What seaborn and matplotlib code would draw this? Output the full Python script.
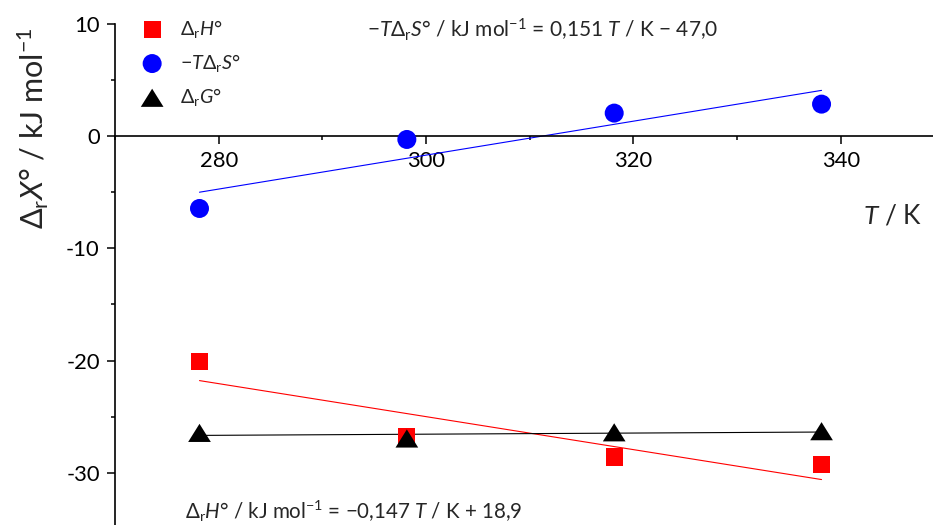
import numpy as np
import pandas as pd
import matplotlib
matplotlib.use("Agg")
import matplotlib.pyplot as plt
import seaborn as sns
from matplotlib.ticker import MultipleLocator, FixedLocator

# ---------------- data ----------------
temperature = [278.15, 298.15, 318.15, 338.15]
delta_h = [-20.1, -26.8, -28.6, -29.3]
minus_t_delta_s = [-6.45, -0.30, 2.05, 2.85]
delta_g = [-26.45, -26.95, -26.40, -26.30]

series_labels = [r"$\Delta_{\mathrm{r}}H$°", r"$-T\Delta_{\mathrm{r}}S$°", r"$\Delta_{\mathrm{r}}G$°"]
series_colors = ["#ff0000", "#0000ff", "#000000"]
x_ticks = [280, 300, 320, 340]
y_ticks = [-30, -20, -10, 0, 10]
x_label = r"$T$ / K"
y_label = r"$\Delta_{\mathrm{r}}X$° / kJ mol$^{-1}$"
fit_text_s = r"$-T\Delta_{\mathrm{r}}S$° / kJ mol$^{-1}$ = 0,151 $T$ / K $-$ 47,0"
fit_text_h = r"$\Delta_{\mathrm{r}}H$° / kJ mol$^{-1}$ = $-$0,147 $T$ / K + 18,9"

# ---------------- style ----------------
sns.set_theme(style="ticks")
plt.rcParams["font.family"] = ["Lato", "DejaVu Sans"]
plt.rcParams["mathtext.fontset"] = "custom"
plt.rcParams["mathtext.rm"] = "Lato"
plt.rcParams["mathtext.it"] = "Lato:italic"
plt.rcParams["mathtext.bf"] = "Lato:bold"
plt.rcParams["mathtext.sf"] = "Lato"
plt.rcParams["axes.unicode_minus"] = False

W, H = 933, 525
fig = plt.figure(figsize=(W / 100, H / 100), dpi=100)
ax = fig.add_axes([115 / W, 0, (W - 115) / W, 1 - 23.9 / H])
ax.set_facecolor("white")
fig.patch.set_facecolor("white")

# fit lines
for yvals, col in zip([delta_h, minus_t_delta_s, delta_g], series_colors):
    sns.regplot(x=np.array(temperature), y=np.array(yvals), scatter=False, ci=None,
                truncate=True, color=col, line_kws=dict(lw=0.8, zorder=2), ax=ax)

tri = [(0, 0.8), (-1, -0.8), (1, -0.8)]
sns.scatterplot(x=temperature, y=delta_h, marker="s", s=150, color=series_colors[0],
                edgecolor="none", linewidth=0, label=series_labels[0], zorder=4, ax=ax)
sns.scatterplot(x=temperature, y=minus_t_delta_s, marker="o", s=187, color=series_colors[1],
                edgecolor="none", linewidth=0, label=series_labels[1], zorder=5, ax=ax)
sns.scatterplot(x=temperature, y=delta_g, marker=tri, s=267, color=series_colors[2],
                edgecolor="none", linewidth=0, label=series_labels[2], zorder=6, ax=ax)

ax.set_xlim(270, 348.9)
ax.set_ylim(-34.66, 10)
ax.set_xlabel("")
ax.set_ylabel("")

for s in ["top", "right"]:
    ax.spines[s].set_visible(False)
ax.spines["bottom"].set_position(("data", 0))
for s in ["left", "bottom"]:
    ax.spines[s].set_linewidth(1.2)
    ax.spines[s].set_color("black")

ax.xaxis.set_major_locator(FixedLocator(x_ticks))
ax.xaxis.set_minor_locator(MultipleLocator(10))
ax.yaxis.set_major_locator(FixedLocator(y_ticks))
ax.yaxis.set_minor_locator(MultipleLocator(5))
ax.tick_params(axis="both", which="major", direction="out", length=5.5, width=1.1,
               labelsize=15.8, colors="black")
ax.tick_params(axis="both", which="minor", direction="out", length=3, width=1.1, colors="black")
ax.tick_params(axis="x", which="major", pad=5.5)
ax.tick_params(axis="y", which="major", pad=5.5)

# legend
leg = ax.legend(loc="upper left", bbox_to_anchor=(134.4 / W, 1 - 17.5 / H),
                bbox_transform=fig.transFigure, frameon=False, fontsize=14.2,
                handletextpad=0.5, labelspacing=0.62, borderpad=0, borderaxespad=0,
                handlelength=1.8, scatterpoints=1)

# labels / annotations
fig.text(33 / W, 1 - 128 / H, y_label, rotation=90, ha="center", va="center", fontsize=22)
fig.text(893 / W, 1 - 216 / H, x_label, ha="center", va="center", fontsize=19)
fig.text(367 / W, 1 - 37 / H, fit_text_s, ha="left", va="baseline", fontsize=15)
fig.text(185 / W, 1 - 519 / H, fit_text_h, ha="left", va="baseline", fontsize=14.8)

fig.savefig("out.png", dpi=100)
